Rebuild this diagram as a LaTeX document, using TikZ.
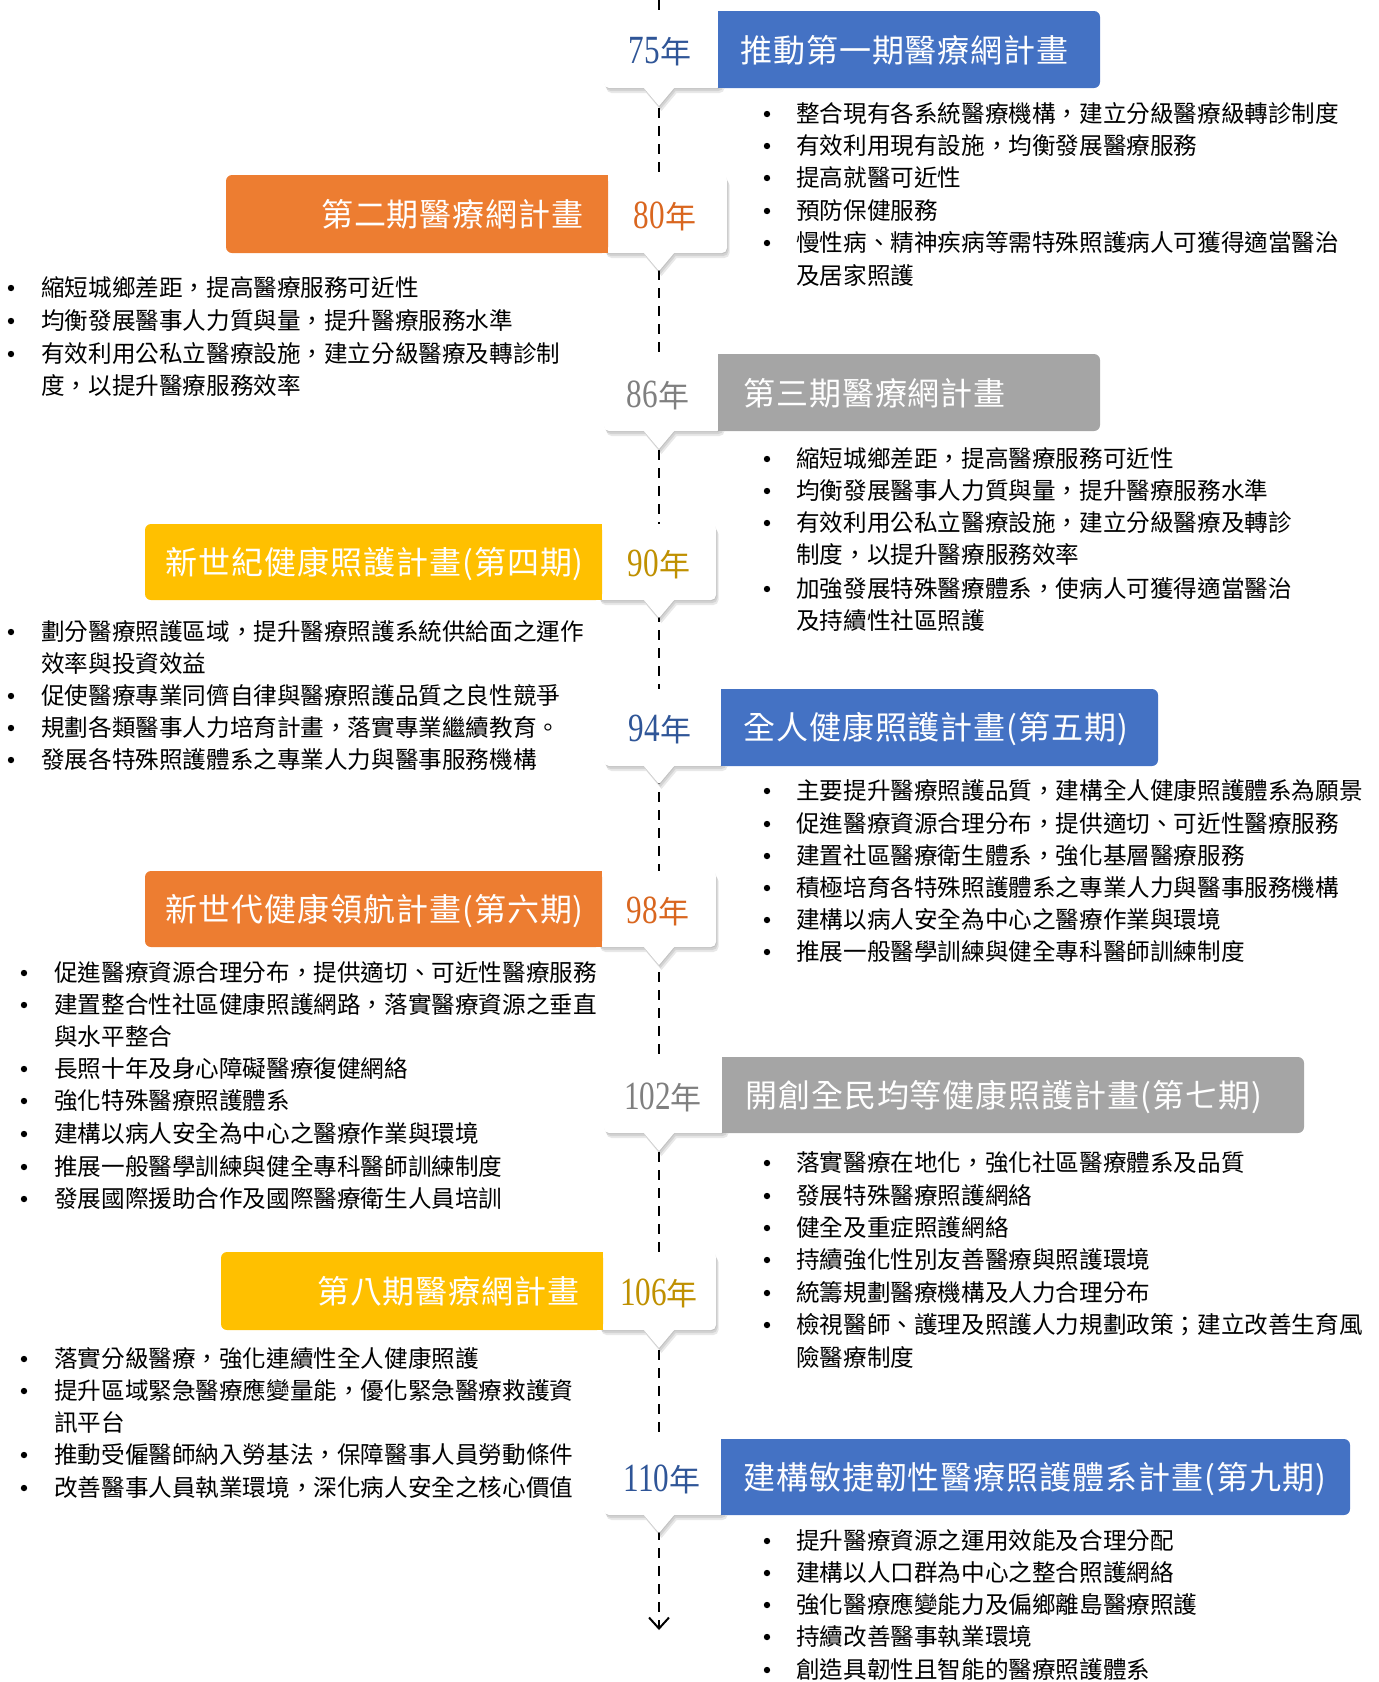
\documentclass[tikz,border=0pt]{standalone}
\usepackage{fontspec}
\usepackage{graphicx}
\setmainfont{Noto Sans CJK TC}
\newfontfamily\ttlfont[LetterSpace=3]{Noto Sans CJK TC}
\newfontfamily\numfont{Liberation Serif}
\usetikzlibrary{arrows.meta}
\definecolor{cblue}{HTML}{4472C4}
\definecolor{corange}{HTML}{ED7D31}
\definecolor{cgray}{HTML}{A5A5A5}
\definecolor{cgold}{HTML}{FFC000}
\definecolor{yblue}{HTML}{2F5597}
\definecolor{yorange}{HTML}{D9661F}
\definecolor{ygray}{HTML}{7F7F7F}
\definecolor{ygold}{HTML}{BF9000}
\tikzset{
  itm/.style={inner sep=0pt, anchor=west, font=\fontsize{23.6}{28}\selectfont, text height=19.8pt, text depth=1.9pt},
  ttl/.style={inner sep=0pt, text=white, font=\ttlfont\fontsize{32}{36}\selectfont, text height=26.9pt, text depth=2.6pt},
  yr/.style={inner sep=0pt, font=\fontsize{31}{34}\selectfont, text height=26pt, text depth=2pt},
  timeline/.style={line width=2pt, dash pattern=on 10pt off 8pt, -{Straight Barb[length=11pt,width=20pt]}},
}
\newcommand\yrnum[1]{\scalebox{0.78}[1]{\fontsize{40}{40}\numfont #1}}
% callout: x1 y1 x2 y2 tipx
\newcommand\ycall[5]{%
  \foreach \dd in {1,3,5}{%
    \fill[black, opacity=0.09, shift={(0.5*\dd,\dd)}] (#1,#2) [rounded corners=5] rectangle (#3,#4)
      [sharp corners] (#5-16,#4-1) -- (#5,#4+18) -- (#5+16,#4-1) -- cycle;}
  \fill[white] (#1,#2) [rounded corners=5] rectangle (#3,#4)
      [sharp corners] (#5-16,#4-1) -- (#5,#4+18) -- (#5+16,#4-1) -- cycle;}
% bar with rounded right corners (to the right of the timeline)
\newcommand\rbar[5]{%
  \fill[#5, rounded corners=6] (#1,#2) rectangle (#3,#4);
  \fill[#5] (#1,#2) rectangle (#1+12,#4);}
% bar with rounded left corners (to the left of the timeline)
\newcommand\lbar[5]{%
  \fill[#5, rounded corners=6] (#1,#2) rectangle (#3,#4);
  \fill[#5] (#3-12,#2) rectangle (#3,#4);}
% bullet item: name, bullet x, text x, y, text
\newcommand\bi[5]{%
  \fill (#2,#4) circle (3.2);
  \node[itm] (#1) at (#3,#4) {#5};}
\newcommand\ci[4]{\node[itm] (#1) at (#2,#3) {#4};}
\begin{document}
\begin{tikzpicture}[x=1pt,y=-1pt]
\useasboundingbox (0,0) rectangle (1379,1682);
% timeline
\coordinate (ltop) at (659,0);
\coordinate (lend) at (659,1630);
\draw[timeline] (ltop) -- (lend);

% ---------- Row 1 : 75
\ycall{604}{11}{722}{88}{659}
\rbar{718}{11}{1100}{88}{cblue}
\node[yr, text=yblue] (y75) at (660,51) {\yrnum{75}年};
\node[ttl, anchor=west] (t1) at (740,50) {推動第一期醫療網計畫};
\bi{a1}{767}{796}{114}{整合現有各系統醫療機構，建立分級醫療級轉診制度}
\bi{a2}{767}{796}{146}{有效利用現有設施，均衡發展醫療服務}
\bi{a3}{767}{796}{178}{提高就醫可近性}
\bi{a4}{767}{796}{211}{預防保健服務}
\bi{a5}{767}{796}{243}{慢性病、精神疾病等需特殊照護病人可獲得適當醫治}
\ci{a6}{796}{276}{及居家照護}

% ---------- Row 2 : 80
\ycall{604}{175}{727}{253}{659}
\lbar{226}{175}{608}{253}{corange}
\node[yr, text=yorange] (y80) at (665,216) {\yrnum{80}年};
\node[ttl, anchor=east] (t2) at (584,214) {第二期醫療網計畫};
\bi{b1}{11}{41}{288}{縮短城鄉差距，提高醫療服務可近性}
\bi{b2}{11}{41}{321}{均衡發展醫事人力質與量，提升醫療服務水準}
\bi{b3}{11}{41}{354}{有效利用公私立醫療設施，建立分級醫療及轉診制}
\ci{b4}{41}{386}{度，以提升醫療服務效率}

% ---------- Row 3 : 86
\ycall{604}{354}{722}{431}{659}
\rbar{718}{354}{1100}{431}{cgray}
\node[yr, text=ygray] (y86) at (658,395) {\yrnum{86}年};
\node[ttl, anchor=west] (t3) at (743,393) {第三期醫療網計畫};
\bi{c1}{767}{796}{459}{縮短城鄉差距，提高醫療服務可近性}
\bi{c2}{767}{796}{491}{均衡發展醫事人力質與量，提升醫療服務水準}
\bi{c3}{767}{796}{523}{有效利用公私立醫療設施，建立分級醫療及轉診}
\ci{c4}{796}{555}{制度，以提升醫療服務效率}
\bi{c5}{767}{796}{589}{加強發展特殊醫療體系，使病人可獲得適當醫治}
\ci{c6}{796}{621}{及持續性社區照護}

% ---------- Row 4 : 90
\ycall{598}{524}{716}{600}{659}
\lbar{145}{524}{602}{600}{cgold}
\node[yr, text=ygold] (y90) at (659,564) {\yrnum{90}年};
\node[ttl, anchor=east] (t4) at (584,562) {新世紀健康照護計畫(第四期)};
\bi{d1}{11}{41}{632}{劃分醫療照護區域，提升醫療照護系統供給面之運作}
\ci{d2}{41}{664}{效率與投資效益}
\bi{d3}{11}{41}{696}{促使醫療專業同儕自律與醫療照護品質之良性競爭}
\bi{d4}{11}{41}{728}{規劃各類醫事人力培育計畫，落實專業繼續教育。}
\bi{d5}{11}{41}{760}{發展各特殊照護體系之專業人力與醫事服務機構}

% ---------- Row 5 : 94
\ycall{604}{689}{725}{766}{659}
\rbar{721}{689}{1158}{766}{cblue}
\node[yr, text=yblue] (y94) at (660,729) {\yrnum{94}年};
\node[ttl, anchor=west] (t5) at (743,727) {全人健康照護計畫(第五期)};
\bi{e1}{767}{796}{791}{主要提升醫療照護品質，建構全人健康照護體系為願景}
\bi{e2}{767}{796}{824}{促進醫療資源合理分布，提供適切、可近性醫療服務}
\bi{e3}{767}{796}{856}{建置社區醫療衛生體系，強化基層醫療服務}
\bi{e4}{767}{796}{888}{積極培育各特殊照護體系之專業人力與醫事服務機構}
\bi{e5}{767}{796}{920}{建構以病人安全為中心之醫療作業與環境}
\bi{e6}{767}{796}{952}{推展一般醫學訓練與健全專科醫師訓練制度}

% ---------- Row 6 : 98
\ycall{598}{871}{716}{947}{659}
\lbar{145}{871}{602}{947}{corange}
\node[yr, text=yorange] (y98) at (658,911) {\yrnum{98}年};
\node[ttl, anchor=east] (t6) at (584,909) {新世代健康領航計畫(第六期)};
\bi{f1}{24}{54}{973}{促進醫療資源合理分布，提供適切、可近性醫療服務}
\bi{f2}{24}{54}{1005}{建置整合性社區健康照護網路，落實醫療資源之垂直}
\ci{f3}{54}{1037}{與水平整合}
\bi{f4}{24}{54}{1069}{長照十年及身心障礙醫療復健網絡}
\bi{f5}{24}{54}{1101}{強化特殊醫療照護體系}
\bi{f6}{24}{54}{1134}{建構以病人安全為中心之醫療作業與環境}
\bi{f7}{24}{54}{1167}{推展一般醫學訓練與健全專科醫師訓練制度}
\bi{f8}{24}{54}{1199}{發展國際援助合作及國際醫療衛生人員培訓}

% ---------- Row 7 : 102
\ycall{604}{1057}{726}{1133}{659}
\rbar{722}{1057}{1304}{1133}{cgray}
\node[yr, text=ygray] (y102) at (663,1097) {\yrnum{102}年};
\node[ttl, anchor=west] (t7) at (745,1095) {開創全民均等健康照護計畫(第七期)};
\bi{g1}{767}{796}{1163}{落實醫療在地化，強化社區醫療體系及品質}
\bi{g2}{767}{796}{1196}{發展特殊醫療照護網絡}
\bi{g3}{767}{796}{1228}{健全及重症照護網絡}
\bi{g4}{767}{796}{1260}{持續強化性別友善醫療與照護環境}
\bi{g5}{767}{796}{1293}{統籌規劃醫療機構及人力合理分布}
\bi{g6}{767}{796}{1325}{檢視醫師、護理及照護人力規劃政策；建立改善生育風}
\ci{g7}{796}{1358}{險醫療制度}

% ---------- Row 8 : 106
\ycall{599}{1252}{716}{1330}{659}
\lbar{221}{1252}{603}{1330}{cgold}
\node[yr, text=ygold] (y106) at (659,1293) {\yrnum{106}年};
\node[ttl, anchor=east] (t8) at (580,1291) {第八期醫療網計畫};
\bi{h1}{24}{54}{1359}{落實分級醫療，強化連續性全人健康照護}
\bi{h2}{24}{54}{1391}{提升區域緊急醫療應變量能，優化緊急醫療救護資}
\ci{h3}{54}{1423}{訊平台}
\bi{h4}{24}{54}{1455}{推動受僱醫師納入勞基法，保障醫事人員勞動條件}
\bi{h5}{24}{54}{1488}{改善醫事人員執業環境，深化病人安全之核心價值}

% ---------- Row 9 : 110
\ycall{604}{1439}{725}{1515}{659}
\rbar{721}{1439}{1350}{1515}{cblue}
\node[yr, text=yblue] (y110) at (662,1479) {\yrnum{110}年};
\node[ttl, anchor=west] (t9) at (743,1477) {建構敏捷韌性醫療照護體系計畫(第九期)};
\bi{i1}{767}{796}{1541}{提升醫療資源之運用效能及合理分配}
\bi{i2}{767}{796}{1573}{建構以人口群為中心之整合照護網絡}
\bi{i3}{767}{796}{1605}{強化醫療應變能力及偏鄉離島醫療照護}
\bi{i4}{767}{796}{1637}{持續改善醫事執業環境}
\bi{i5}{767}{796}{1670}{創造具韌性且智能的醫療照護體系}
\end{tikzpicture}
\end{document}
